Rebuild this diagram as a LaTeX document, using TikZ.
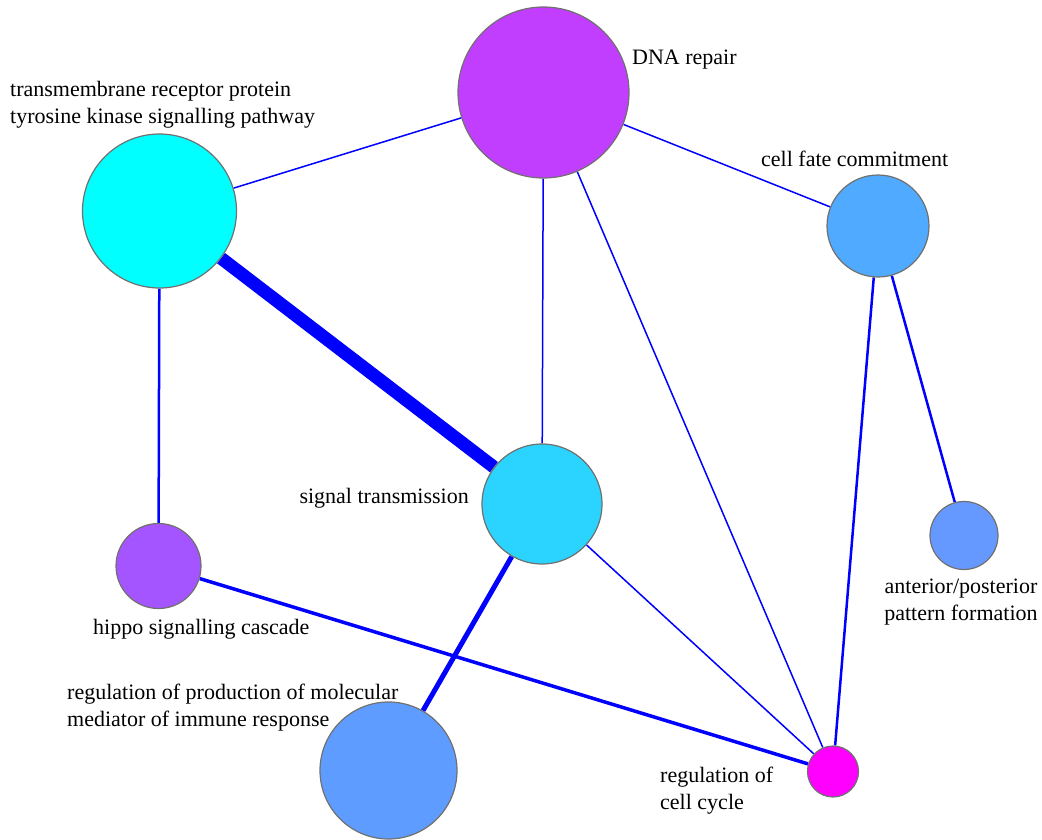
\documentclass[tikz,border=0pt]{standalone}
\usepackage{fontspec}
\setmainfont{Liberation Serif}
\usetikzlibrary{backgrounds}

\definecolor{rim}{RGB}{112,112,112}
\definecolor{cDNA}{RGB}{194,62,255}
\definecolor{cTM}{RGB}{0,255,255}
\definecolor{cFate}{RGB}{80,170,255}
\definecolor{cSig}{RGB}{42,212,255}
\definecolor{cHippo}{RGB}{164,85,255}
\definecolor{cAP}{RGB}{102,153,255}
\definecolor{cImm}{RGB}{95,156,255}
\definecolor{cCyc}{RGB}{255,0,255}

\begin{document}
\begin{tikzpicture}[x=1pt,y=-1pt]
	\tikzset{term/.style={circle,draw=rim,line width=1.2pt,inner sep=0pt},
		lbl/.style={font=\fontsize{22}{27}\selectfont,inner sep=0pt},
		link/.style={blue,line width=1.5pt}}
	
	\useasboundingbox (0,0) rectangle (1042,840);
	
	% GO terms
	\node[term,fill=cDNA,minimum size=171pt] (dna) at (543.5,92.5) {};
	\node[term,fill=cTM,minimum size=154pt] (tm) at (159.5,211) {};
	\node[term,fill=cFate,minimum size=102pt] (fate) at (878,226) {};
	\node[term,fill=cSig,minimum size=120pt] (sig) at (542,504) {};
	\node[term,fill=cHippo,minimum size=85pt] (hippo) at (158.5,566) {};
	\node[term,fill=cAP,minimum size=68pt] (ap) at (964,535.5) {};
	\node[term,fill=cImm,minimum size=137pt] (imm) at (388.5,770.5) {};
	\node[term,fill=cCyc,minimum size=51pt] (cyc) at (833,771.5) {};
	
	% labels
	\node[lbl,anchor=north west,align=left] (tmlbl) at (10,81) {transmembrane receptor protein\\tyrosine kinase signalling pathway};
	\node[lbl,anchor=base west] (dnalbl) at (632,65) {DNA repair};
	\node[lbl,anchor=base west] (fatelbl) at (761,167) {cell fate commitment};
	\node[lbl,anchor=base east] (siglbl) at (469,503) {signal transmission};
	\node[lbl,anchor=base west] (hippolbl) at (93,634) {hippo signalling cascade};
	\node[lbl,anchor=north,align=center] (aplbl) at (961,578.5) {anterior/posterior\\pattern formation};
	\node[lbl,anchor=north west,align=left] (immlbl) at (67,683.5) {regulation of production of molecular\\mediator of immune response};
	\node[lbl,anchor=north west,align=left] (cyclbl) at (660,767) {regulation of\\cell cycle};
	
	\begin{pgfonlayer}{background}
		\draw[link] (dna) -- (tm);
		\draw[link] (dna) -- (fate);
		\draw[link] (dna) -- (sig);
		\draw[link] (dna) -- (cyc);
		\draw[link,line width=13pt] (tm) -- (sig);
		\draw[link,line width=2.5pt] (tm) -- (hippo);
		\draw[link,line width=5pt] (sig) -- (imm);
		\draw[link] (sig) -- (cyc);
		\draw[link,line width=3.5pt] (hippo) -- (cyc);
		\draw[link,line width=2.5pt] (fate) -- (cyc);
		\draw[link,line width=2.5pt] (fate) -- (ap);
	\end{pgfonlayer}
\end{tikzpicture}
\end{document}
